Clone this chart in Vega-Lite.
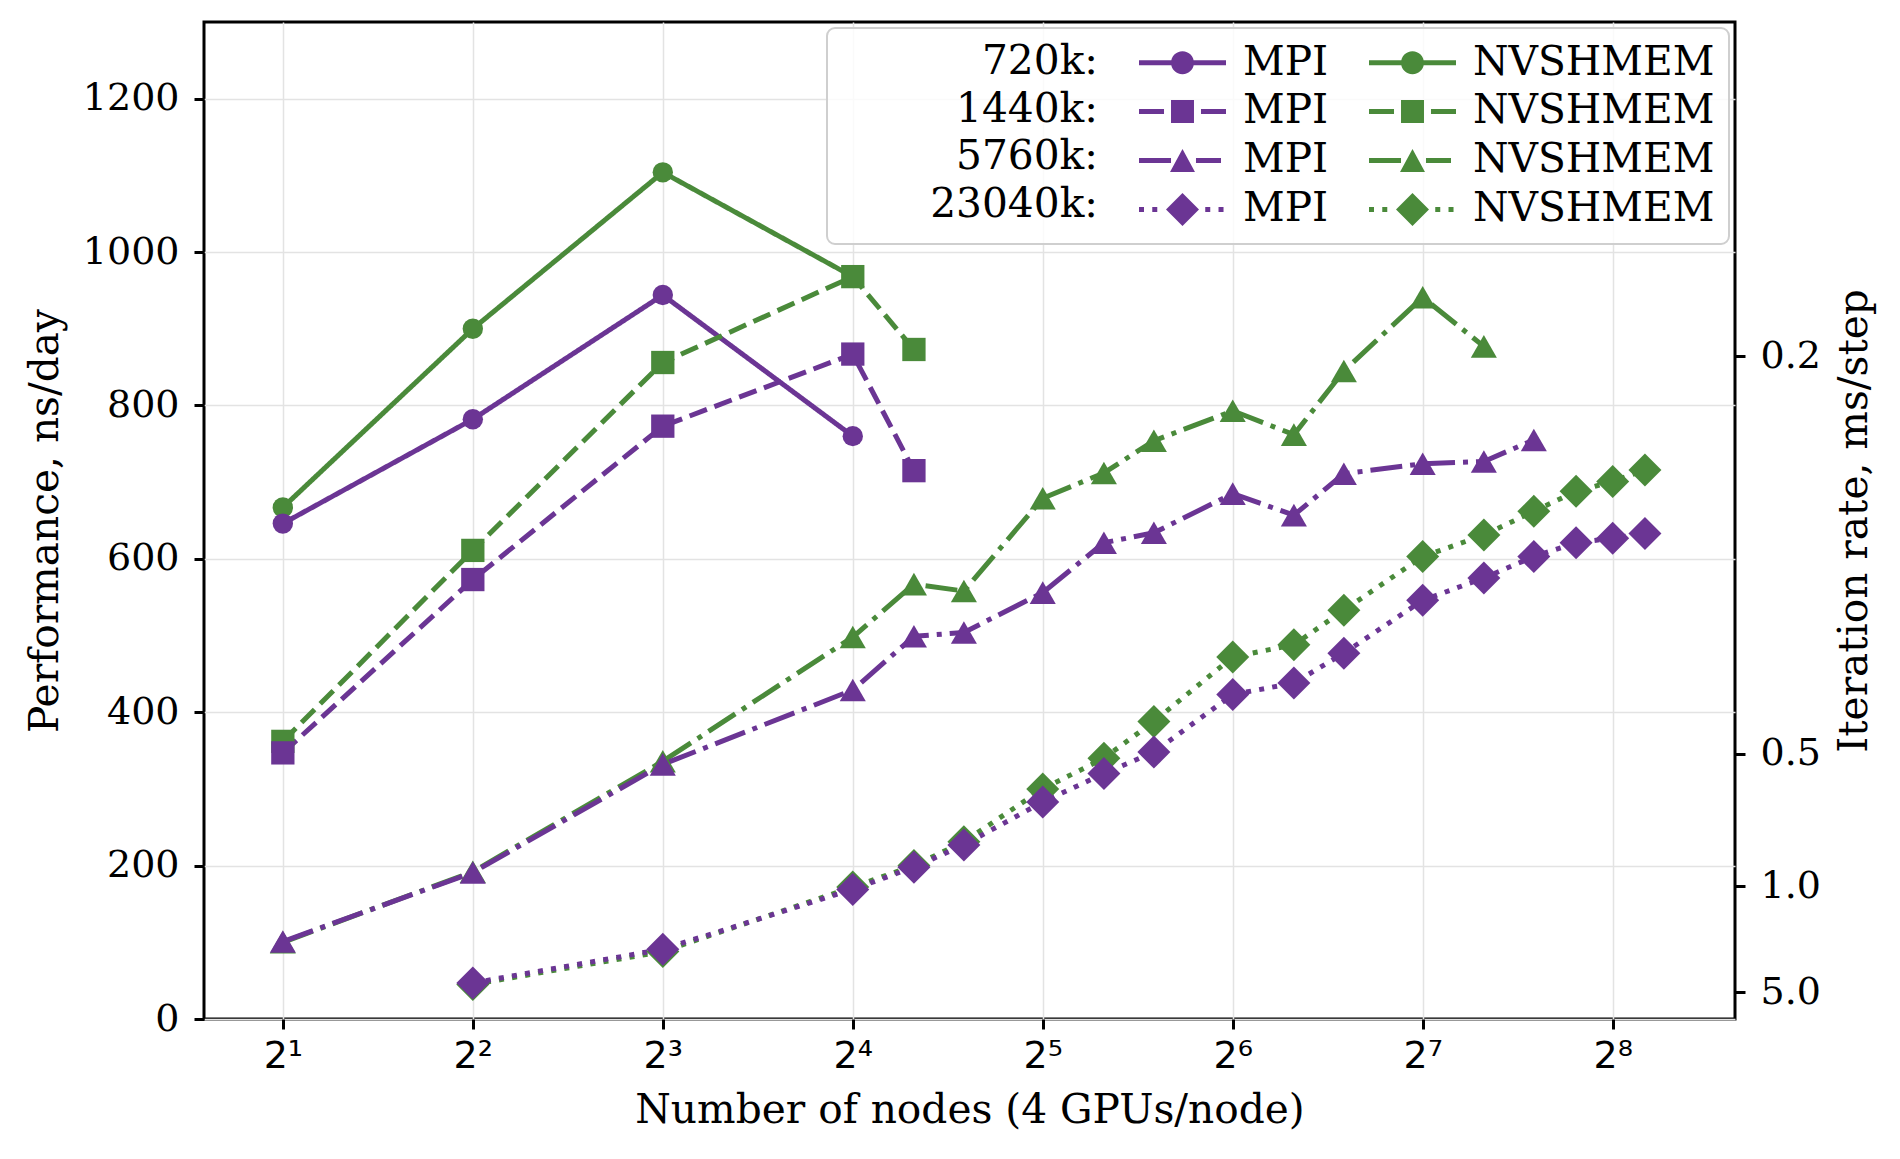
{
  "$schema": "https://vega.github.io/schema/vega-lite/v6.json",
  "width": 1531,
  "height": 997,
  "autosize": "none",
  "padding": {"left": 204, "top": 22, "right": 165, "bottom": 140},
  "background": "white",
  "config": {
    "font": "DejaVu Serif",
    "view": {"stroke": "black", "strokeWidth": 3},
    "axis": {
      "labelFont": "DejaVu Serif", "titleFont": "DejaVu Serif",
      "labelFontSize": 38, "titleFontSize": 40.7, "titleFontWeight": "normal",
      "labelColor": "black", "titleColor": "black",
      "tickColor": "black", "tickSize": 10, "tickWidth": 3,
      "domain": false, "gridColor": "#e3e3e3", "gridWidth": 1.5
    }
  },
  "data": {"values": [
    {"n": 2, "v": 667, "sys": "720k", "series": "720k NVSHMEM"},
    {"n": 4, "v": 900, "sys": "720k", "series": "720k NVSHMEM"},
    {"n": 8, "v": 1104, "sys": "720k", "series": "720k NVSHMEM"},
    {"n": 16, "v": 968, "sys": "720k", "series": "720k NVSHMEM"},
    {"n": 2, "v": 646, "sys": "720k", "series": "720k MPI"},
    {"n": 4, "v": 782, "sys": "720k", "series": "720k MPI"},
    {"n": 8, "v": 944, "sys": "720k", "series": "720k MPI"},
    {"n": 16, "v": 760, "sys": "720k", "series": "720k MPI"},
    {"n": 2, "v": 362, "sys": "1440k", "series": "1440k NVSHMEM"},
    {"n": 4, "v": 611, "sys": "1440k", "series": "1440k NVSHMEM"},
    {"n": 8, "v": 856, "sys": "1440k", "series": "1440k NVSHMEM"},
    {"n": 16, "v": 968, "sys": "1440k", "series": "1440k NVSHMEM"},
    {"n": 20, "v": 873, "sys": "1440k", "series": "1440k NVSHMEM"},
    {"n": 2, "v": 347, "sys": "1440k", "series": "1440k MPI"},
    {"n": 4, "v": 573, "sys": "1440k", "series": "1440k MPI"},
    {"n": 8, "v": 773, "sys": "1440k", "series": "1440k MPI"},
    {"n": 16, "v": 867, "sys": "1440k", "series": "1440k MPI"},
    {"n": 20, "v": 715, "sys": "1440k", "series": "1440k MPI"},
    {"n": 2, "v": 100, "sys": "5760k", "series": "5760k NVSHMEM"},
    {"n": 4, "v": 192, "sys": "5760k", "series": "5760k NVSHMEM"},
    {"n": 8, "v": 336, "sys": "5760k", "series": "5760k NVSHMEM"},
    {"n": 16, "v": 498, "sys": "5760k", "series": "5760k NVSHMEM"},
    {"n": 20, "v": 567, "sys": "5760k", "series": "5760k NVSHMEM"},
    {"n": 24, "v": 558, "sys": "5760k", "series": "5760k NVSHMEM"},
    {"n": 32, "v": 679, "sys": "5760k", "series": "5760k NVSHMEM"},
    {"n": 40, "v": 712, "sys": "5760k", "series": "5760k NVSHMEM"},
    {"n": 48, "v": 754, "sys": "5760k", "series": "5760k NVSHMEM"},
    {"n": 64, "v": 793, "sys": "5760k", "series": "5760k NVSHMEM"},
    {"n": 80, "v": 762, "sys": "5760k", "series": "5760k NVSHMEM"},
    {"n": 96, "v": 845, "sys": "5760k", "series": "5760k NVSHMEM"},
    {"n": 128, "v": 941, "sys": "5760k", "series": "5760k NVSHMEM"},
    {"n": 160, "v": 877, "sys": "5760k", "series": "5760k NVSHMEM"},
    {"n": 2, "v": 101, "sys": "5760k", "series": "5760k MPI"},
    {"n": 4, "v": 191, "sys": "5760k", "series": "5760k MPI"},
    {"n": 8, "v": 332, "sys": "5760k", "series": "5760k MPI"},
    {"n": 16, "v": 429, "sys": "5760k", "series": "5760k MPI"},
    {"n": 20, "v": 499, "sys": "5760k", "series": "5760k MPI"},
    {"n": 24, "v": 504, "sys": "5760k", "series": "5760k MPI"},
    {"n": 32, "v": 556, "sys": "5760k", "series": "5760k MPI"},
    {"n": 40, "v": 621, "sys": "5760k", "series": "5760k MPI"},
    {"n": 48, "v": 634, "sys": "5760k", "series": "5760k MPI"},
    {"n": 64, "v": 685, "sys": "5760k", "series": "5760k MPI"},
    {"n": 80, "v": 657, "sys": "5760k", "series": "5760k MPI"},
    {"n": 96, "v": 711, "sys": "5760k", "series": "5760k MPI"},
    {"n": 128, "v": 724, "sys": "5760k", "series": "5760k MPI"},
    {"n": 160, "v": 727, "sys": "5760k", "series": "5760k MPI"},
    {"n": 192, "v": 755, "sys": "5760k", "series": "5760k MPI"},
    {"n": 4, "v": 45, "sys": "23040k", "series": "23040k NVSHMEM"},
    {"n": 8, "v": 88, "sys": "23040k", "series": "23040k NVSHMEM"},
    {"n": 16, "v": 172, "sys": "23040k", "series": "23040k NVSHMEM"},
    {"n": 20, "v": 200, "sys": "23040k", "series": "23040k NVSHMEM"},
    {"n": 24, "v": 231, "sys": "23040k", "series": "23040k NVSHMEM"},
    {"n": 32, "v": 300, "sys": "23040k", "series": "23040k NVSHMEM"},
    {"n": 40, "v": 340, "sys": "23040k", "series": "23040k NVSHMEM"},
    {"n": 48, "v": 388, "sys": "23040k", "series": "23040k NVSHMEM"},
    {"n": 64, "v": 472, "sys": "23040k", "series": "23040k NVSHMEM"},
    {"n": 80, "v": 488, "sys": "23040k", "series": "23040k NVSHMEM"},
    {"n": 96, "v": 533, "sys": "23040k", "series": "23040k NVSHMEM"},
    {"n": 128, "v": 603, "sys": "23040k", "series": "23040k NVSHMEM"},
    {"n": 160, "v": 631, "sys": "23040k", "series": "23040k NVSHMEM"},
    {"n": 192, "v": 662, "sys": "23040k", "series": "23040k NVSHMEM"},
    {"n": 224, "v": 688, "sys": "23040k", "series": "23040k NVSHMEM"},
    {"n": 256, "v": 701, "sys": "23040k", "series": "23040k NVSHMEM"},
    {"n": 288, "v": 716, "sys": "23040k", "series": "23040k NVSHMEM"},
    {"n": 4, "v": 47, "sys": "23040k", "series": "23040k MPI"},
    {"n": 8, "v": 91, "sys": "23040k", "series": "23040k MPI"},
    {"n": 16, "v": 169, "sys": "23040k", "series": "23040k MPI"},
    {"n": 20, "v": 198, "sys": "23040k", "series": "23040k MPI"},
    {"n": 24, "v": 227, "sys": "23040k", "series": "23040k MPI"},
    {"n": 32, "v": 283, "sys": "23040k", "series": "23040k MPI"},
    {"n": 40, "v": 320, "sys": "23040k", "series": "23040k MPI"},
    {"n": 48, "v": 348, "sys": "23040k", "series": "23040k MPI"},
    {"n": 64, "v": 423, "sys": "23040k", "series": "23040k MPI"},
    {"n": 80, "v": 438, "sys": "23040k", "series": "23040k MPI"},
    {"n": 96, "v": 477, "sys": "23040k", "series": "23040k MPI"},
    {"n": 128, "v": 546, "sys": "23040k", "series": "23040k MPI"},
    {"n": 160, "v": 575, "sys": "23040k", "series": "23040k MPI"},
    {"n": 192, "v": 603, "sys": "23040k", "series": "23040k MPI"},
    {"n": 224, "v": 621, "sys": "23040k", "series": "23040k MPI"},
    {"n": 256, "v": 627, "sys": "23040k", "series": "23040k MPI"},
    {"n": 288, "v": 633, "sys": "23040k", "series": "23040k MPI"}
  ]},
  "resolve": {"scale": {"y": "shared"}, "axis": {"y": "independent"}},
  "encoding": {
    "x": {"field": "n", "type": "quantitative",
      "scale": {"type": "log", "base": 2, "domain": [1.5, 400], "nice": false},
      "axis": {"title": "Number of nodes (4 GPUs/node)", "values": [2, 4, 8, 16, 32, 64, 128, 256],
        "labelExpr": "'2' + ['', '\u00b9', '\u00b2', '\u00b3', '\u2074', '\u2075', '\u2076', '\u2077', '\u2078'][round(log(datum.value)/LN2)]",
        "labelFont": "DejaVu Sans", "grid": true, "labelPadding": 8, "titlePadding": 15, "labelFlush": false}},
    "color": {"field": "series", "type": "nominal",
      "scale": {"domain": ["720k MPI", "720k NVSHMEM", "1440k MPI", "1440k NVSHMEM", "5760k MPI", "5760k NVSHMEM", "23040k MPI", "23040k NVSHMEM"],
        "range": ["#6B3594", "#4A8A3A", "#6B3594", "#4A8A3A", "#6B3594", "#4A8A3A", "#6B3594", "#4A8A3A"]},
      "legend": {
        "orient": "top-right", "offset": 6, "direction": "horizontal", "columns": 2, "columnPadding": 40, "rowPadding": 7,
        "title": ["720k:", "1440k:", "5760k:", "\u2800\u2800\u280023040k:"],
        "titleOrient": "left", "titleAlign": "right", "titleAnchor": "start", "titleBaseline": "top",
        "titleFont": "DejaVu Serif", "titleFontSize": 40.7, "titleFontWeight": "normal", "titleColor": "black",
        "titleLineHeight": 47.7, "titlePadding": -217, "titleLimit": 800,
        "labelFont": "DejaVu Serif", "labelFontSize": 40.7, "labelColor": "black", "labelLimit": 800, "labelOffset": 17,
        "labelExpr": "split(datum.label, ' ')[1]",
        "symbolSize": 7569, "symbolStrokeWidth": 0,
        "padding": 14, "strokeColor": "#cfcfcf", "fillColor": "rgba(255,255,255,0.8)", "cornerRadius": 8,
        "encode": {
          "legend": {"update": {"strokeWidth": {"value": 2}}},
          "labels": {"update": {"y": {"value": 20.4}}},
          "symbols": {"update": {
            "y": {"value": 20.4},
            "shape": {"signal": "split(datum.value, ' ')[0] === '720k' ? 'M-1,-0.058L1,-0.058L1,0.058L-1,0.058ZM-0.264,0A0.264,0.264,0,1,1,0.264,0A0.264,0.264,0,1,1,-0.264,0Z' : split(datum.value, ' ')[0] === '1440k' ? 'M-1,-0.058L-0.425,-0.058L-0.425,0.058L-1,0.058ZM0.425,-0.058L1,-0.058L1,0.058L0.425,0.058ZM-0.264,-0.264L0.264,-0.264L0.264,0.264L-0.264,0.264Z' : split(datum.value, ' ')[0] === '5760k' ? 'M-1,-0.058L-0.264,-0.058L-0.264,0.058L-1,0.058ZM0.31,-0.058L0.885,-0.058L0.885,0.058L0.31,0.058ZM0,-0.264L0.287,0.264L-0.287,0.264Z' : 'M-1,-0.058L-0.885,-0.058L-0.885,0.058L-1,0.058ZM-0.695,-0.058L-0.58,-0.058L-0.58,0.058L-0.695,0.058ZM0.523,-0.058L0.638,-0.058L0.638,0.058L0.523,0.058ZM0.828,-0.058L0.943,-0.058L0.943,0.058L0.828,0.058ZM0,-0.379L0.379,0L0,0.379L-0.379,0Z'"},
            "fill": {"scale": "color", "field": "value"},
            "stroke": {"value": "transparent"},
            "strokeWidth": {"value": 0},
            "opacity": {"value": 1}
          }}
        }
      }}
  },
  "layer": [
    {
      "mark": {"type": "line", "strokeWidth": 5, "strokeCap": "butt", "strokeJoin": "round"},
      "encoding": {
        "y": {"field": "v", "type": "quantitative",
          "scale": {"domain": [0, 1300], "nice": false, "zero": false},
          "axis": {"title": "Performance, ns/day", "orient": "left", "values": [0, 200, 400, 600, 800, 1000, 1200],
            "format": "d", "grid": true, "labelPadding": 15, "titlePadding": 16}},
        "strokeDash": {"field": "sys", "type": "nominal",
          "scale": {"domain": ["720k", "1440k", "5760k", "23040k"], "range": [[1, 0], [18.5, 8], [32, 8, 5, 8], [5, 8.25]]},
          "legend": null}
      }
    },
    {
      "transform": [{"filter": "datum.sys === '720k'"}],
      "mark": {"type": "point", "shape": "circle", "size": 415, "filled": true, "opacity": 1},
      "encoding": {
        "y": {"field": "v", "type": "quantitative",
          "axis": {"title": "Iteration rate, ms/step", "orient": "right", "values": [34.56, 172.8, 345.6, 864],
            "labelExpr": "format(172.8 / datum.value, '.1f')", "grid": false, "labelPadding": 15,
            "titlePadding": 14, "titleAngle": -90, "titleBaseline": "top"}}
      }
    },
    {
      "transform": [{"filter": "datum.sys === '1440k'"}],
      "mark": {"type": "point", "shape": "square", "size": 543, "filled": true, "opacity": 1},
      "encoding": {
        "y": {"field": "v", "type": "quantitative", "axis": null}
      }
    },
    {
      "transform": [{"filter": "datum.sys === '5760k'"}],
      "mark": {"type": "point", "shape": "triangle-up", "size": 680, "filled": true, "opacity": 1},
      "encoding": {
        "y": {"field": "v", "type": "quantitative", "axis": null}
      }
    },
    {
      "transform": [{"filter": "datum.sys === '23040k'"}],
      "mark": {"type": "point", "shape": "diamond", "size": 1089, "filled": true, "opacity": 1},
      "encoding": {
        "y": {"field": "v", "type": "quantitative", "axis": null}
      }
    }
  ]
}
